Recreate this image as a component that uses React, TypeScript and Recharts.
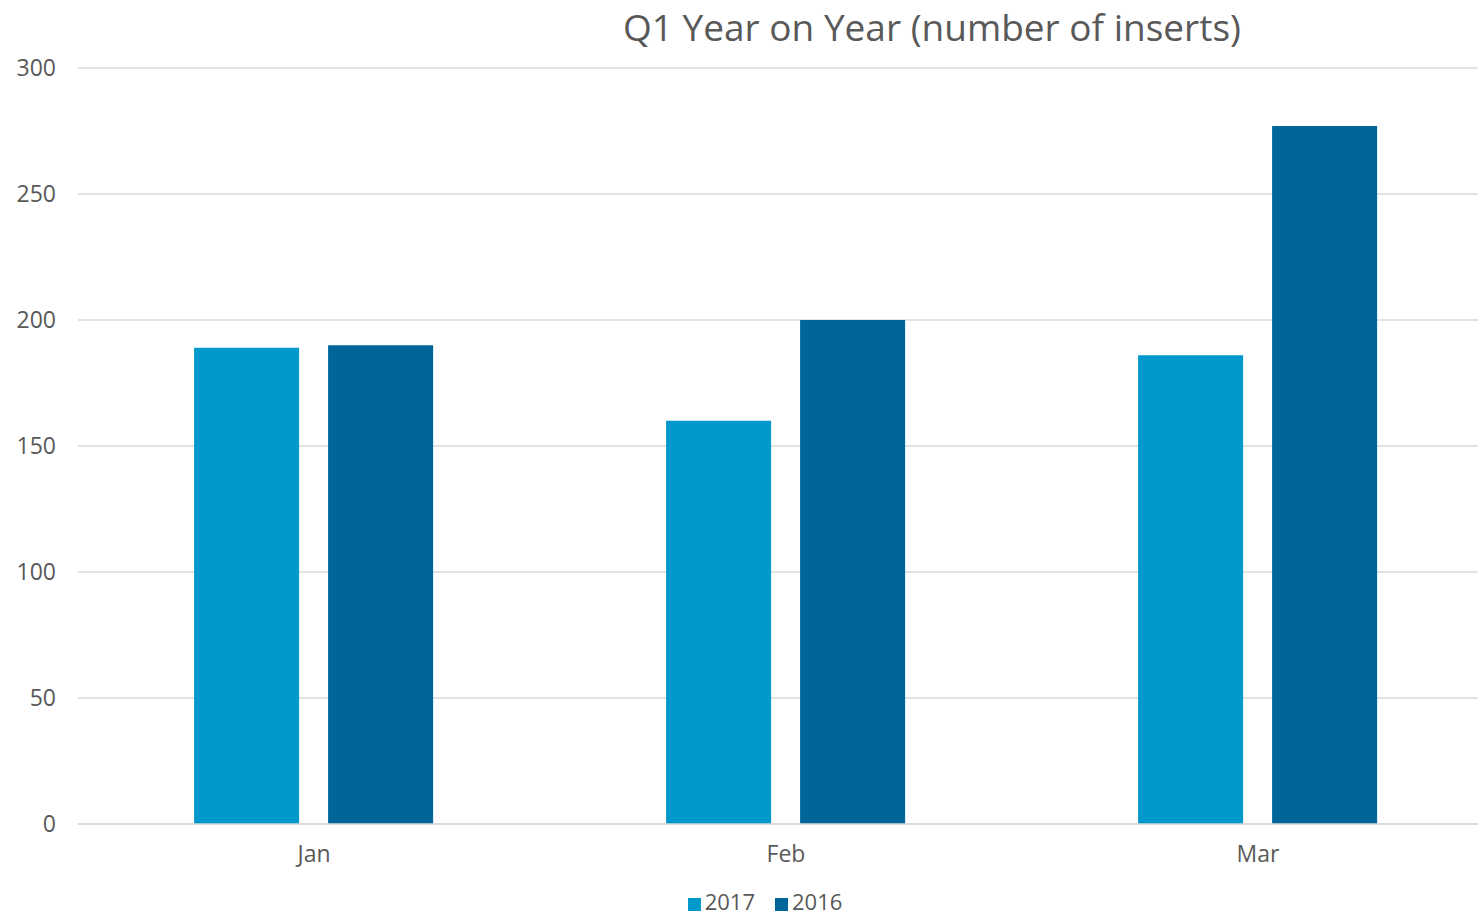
import { BarChart, Bar, XAxis, YAxis, CartesianGrid, Legend } from "recharts";

const months = ["Jan", "Feb", "Mar"];
const inserts2017 = [189, 160, 186];
const inserts2016 = [190, 200, 277];
const yTicks = [0, 50, 100, 150, 200, 250, 300];
const seriesOrder = ["2017", "2016"];

const FONT = "'Open Sans', 'DejaVu Sans', sans-serif";
const TEXT = "#595959";
const GRID = "#d9d9d9";

export default function App() {
  const data = months.map((month, i) => ({
    month,
    y2017: inserts2017[i],
    y2016: inserts2016[i],
  }));

  return (
    <div
      style={{
        position: "absolute",
        left: 0,
        top: 0,
        width: 1478,
        height: 919,
        overflow: "hidden",
        background: "#fff",
        fontFamily: FONT,
      }}
    >
      <div
        style={{
          position: "absolute",
          left: 0,
          width: 1864,
          top: 4,
          textAlign: "center",
          fontSize: 37,
          color: TEXT,
          lineHeight: "46px",
          zIndex: 1,
        }}
      >
        Q1 Year on Year (number of inserts)
      </div>
      {/* plot runs a little past the right edge, like the original */}
      <BarChart
        width={1494}
        height={919}
        data={data}
        margin={{ top: 68, right: 0, left: 0, bottom: 40 }}
        barCategoryGap="24.6%"
        barGap={29}
      >
        <CartesianGrid vertical={false} stroke={GRID} strokeWidth={1.5} />
        <XAxis
          dataKey="month"
          axisLine={{ stroke: GRID, strokeWidth: 1.5 }}
          tickLine={false}
          tickSize={0}
          tickMargin={22}
          height={55}
          tick={{ fill: TEXT, fontSize: 23, fontFamily: FONT }}
        />
        <YAxis
          domain={[0, 300]}
          ticks={yTicks}
          axisLine={false}
          tickLine={false}
          tickSize={0}
          tickMargin={22}
          width={78}
          tick={{ fill: TEXT, fontSize: 23, fontFamily: FONT }}
        />
        <Legend
          verticalAlign="middle"
          align="center"
          layout="horizontal"
          iconType="square"
          iconSize={13}
          itemSorter={(item: any) => seriesOrder.indexOf(String(item.value))}
          wrapperStyle={{
            top: 889,
            left: 28,
            width: 1494,
            fontSize: 22,
            lineHeight: "24px",
            fontFamily: FONT,
          }}
          formatter={(value) => <span style={{ color: TEXT, paddingRight: 10 }}>{value}</span>}
        />
        <Bar dataKey="y2017" name="2017" fill="#0099cc" isAnimationActive={false} />
        <Bar dataKey="y2016" name="2016" fill="#006699" isAnimationActive={false} />
      </BarChart>
    </div>
  );
}
